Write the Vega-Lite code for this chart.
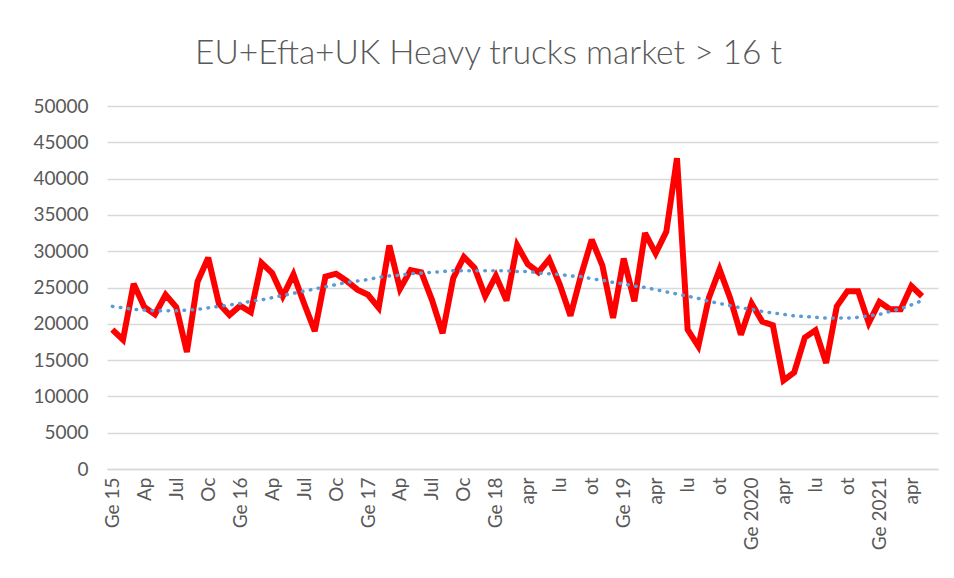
{
  "$schema": "https://vega.github.io/schema/vega-lite/v6.json",
  "width": 831,
  "height": 363,
  "autosize": {"type": "none"},
  "padding": {"left": 107, "top": 106, "right": 16, "bottom": 109},
  "background": "#ffffff",
  "title": {
    "text": "EU+Efta+UK Heavy trucks market > 16 t",
    "font": "Lato",
    "fontSize": 33.5,
    "fontWeight": 300,
    "color": "#595959",
    "anchor": "middle",
    "frame": "group",
    "dx": -34,
    "offset": 26
  },
  "config": {
    "view": {"stroke": null},
    "axis": {
      "labelFont": "Lato",
      "labelColor": "#595959",
      "labelFontSize": 19,
      "ticks": false,
      "title": null,
      "gridColor": "#d9d9d9",
      "gridWidth": 1.3
    }
  },
  "data": {
    "values": [
      {"n":0,"month":"2015-01","units":19200,"trend":22400},
      {"n":1,"month":"2015-02","units":17800,"trend":22200},
      {"n":2,"month":"2015-03","units":25500,"trend":22000},
      {"n":3,"month":"2015-04","units":22300,"trend":21900},
      {"n":4,"month":"2015-05","units":21300,"trend":21800},
      {"n":5,"month":"2015-06","units":24000,"trend":21800},
      {"n":6,"month":"2015-07","units":22300,"trend":21800},
      {"n":7,"month":"2015-08","units":16100,"trend":21900},
      {"n":8,"month":"2015-09","units":25800,"trend":22000},
      {"n":9,"month":"2015-10","units":29100,"trend":22200},
      {"n":10,"month":"2015-11","units":22800,"trend":22400},
      {"n":11,"month":"2015-12","units":21200,"trend":22600},
      {"n":12,"month":"2016-01","units":22500,"trend":22800},
      {"n":13,"month":"2016-02","units":21600,"trend":23100},
      {"n":14,"month":"2016-03","units":28400,"trend":23300},
      {"n":15,"month":"2016-04","units":27000,"trend":23600},
      {"n":16,"month":"2016-05","units":23800,"trend":23900},
      {"n":17,"month":"2016-06","units":26800,"trend":24200},
      {"n":18,"month":"2016-07","units":22800,"trend":24500},
      {"n":19,"month":"2016-08","units":19000,"trend":24800},
      {"n":20,"month":"2016-09","units":26500,"trend":25100},
      {"n":21,"month":"2016-10","units":26900,"trend":25400},
      {"n":22,"month":"2016-11","units":25900,"trend":25700},
      {"n":23,"month":"2016-12","units":24700,"trend":25900},
      {"n":24,"month":"2017-01","units":24000,"trend":26100},
      {"n":25,"month":"2017-02","units":22200,"trend":26400},
      {"n":26,"month":"2017-03","units":30800,"trend":26600},
      {"n":27,"month":"2017-04","units":24800,"trend":26700},
      {"n":28,"month":"2017-05","units":27400,"trend":26900},
      {"n":29,"month":"2017-06","units":27100,"trend":27000},
      {"n":30,"month":"2017-07","units":23300,"trend":27100},
      {"n":31,"month":"2017-08","units":18700,"trend":27200},
      {"n":32,"month":"2017-09","units":26300,"trend":27300},
      {"n":33,"month":"2017-10","units":29200,"trend":27300},
      {"n":34,"month":"2017-11","units":27700,"trend":27300},
      {"n":35,"month":"2017-12","units":23800,"trend":27300},
      {"n":36,"month":"2018-01","units":26600,"trend":27300},
      {"n":37,"month":"2018-02","units":23200,"trend":27300},
      {"n":38,"month":"2018-03","units":30800,"trend":27200},
      {"n":39,"month":"2018-04","units":28200,"trend":27200},
      {"n":40,"month":"2018-05","units":27100,"trend":27000},
      {"n":41,"month":"2018-06","units":28900,"trend":26900},
      {"n":42,"month":"2018-07","units":25400,"trend":26800},
      {"n":43,"month":"2018-08","units":21100,"trend":26600},
      {"n":44,"month":"2018-09","units":26700,"trend":26500},
      {"n":45,"month":"2018-10","units":31600,"trend":26200},
      {"n":46,"month":"2018-11","units":28000,"trend":26000},
      {"n":47,"month":"2018-12","units":20800,"trend":25700},
      {"n":48,"month":"2019-01","units":29000,"trend":25500},
      {"n":49,"month":"2019-02","units":23100,"trend":25200},
      {"n":50,"month":"2019-03","units":32500,"trend":25000},
      {"n":51,"month":"2019-04","units":29700,"trend":24700},
      {"n":52,"month":"2019-05","units":32700,"trend":24400},
      {"n":53,"month":"2019-06","units":42800,"trend":24100},
      {"n":54,"month":"2019-07","units":19200,"trend":23800},
      {"n":55,"month":"2019-08","units":16900,"trend":23500},
      {"n":56,"month":"2019-09","units":23600,"trend":23100},
      {"n":57,"month":"2019-10","units":27500,"trend":22800},
      {"n":58,"month":"2019-11","units":23500,"trend":22500},
      {"n":59,"month":"2019-12","units":18500,"trend":22200},
      {"n":60,"month":"2020-01","units":22800,"trend":22000},
      {"n":61,"month":"2020-02","units":20300,"trend":21700},
      {"n":62,"month":"2020-03","units":19800,"trend":21500},
      {"n":63,"month":"2020-04","units":12200,"trend":21300},
      {"n":64,"month":"2020-05","units":13300,"trend":21100},
      {"n":65,"month":"2020-06","units":18100,"trend":21000},
      {"n":66,"month":"2020-07","units":19100,"trend":20900},
      {"n":67,"month":"2020-08","units":14600,"trend":20800},
      {"n":68,"month":"2020-09","units":22400,"trend":20800},
      {"n":69,"month":"2020-10","units":24500,"trend":20800},
      {"n":70,"month":"2020-11","units":24500,"trend":20900},
      {"n":71,"month":"2020-12","units":20100,"trend":21100},
      {"n":72,"month":"2021-01","units":23000,"trend":21300},
      {"n":73,"month":"2021-02","units":22000,"trend":21700},
      {"n":74,"month":"2021-03","units":22000,"trend":22100},
      {"n":75,"month":"2021-04","units":25200,"trend":22600},
      {"n":76,"month":"2021-05","units":23800,"trend":23200}
    ]
  },
  "encoding": {
    "x": {
      "field": "n",
      "type": "quantitative",
      "scale": {"domain": [-0.5, 77.5], "nice": false, "zero": false},
      "axis": {
        "values": [0,3,6,9,12,15,18,21,24,27,30,33,36,39,42,45,48,51,54,57,60,63,66,69,72,75],
        "labelExpr": "['Ge 15','Ap','Jul','Oc','Ge 16','Ap','Jul','Oc','Ge 17','Ap','Jul','Oc','Ge 18','apr','lu','ot','Ge 19','apr','lu','ot','Ge 2020','apr','lu','ot','Ge 2021','apr'][round(datum.value/3)]",
        "labelAngle": -90,
        "labelAlign": "right",
        "labelBaseline": "middle",
        "labelPadding": 8,
        "grid": false,
        "domain": true,
        "domainColor": "#d9d9d9",
        "domainWidth": 1.3,
        "labelFlush": false,
        "labelOverlap": false
      }
    },
    "y": {
      "type": "quantitative",
      "scale": {"domain": [0, 50000], "nice": false},
      "axis": {
        "values": [0,5000,10000,15000,20000,25000,30000,35000,40000,45000,50000],
        "format": "d",
        "domain": false,
        "grid": true,
        "labelPadding": 19
      }
    }
  },
  "layer": [
    {
      "mark": {"type": "line", "color": "#ff0000", "strokeWidth": 6, "strokeJoin": "miter", "strokeMiterLimit": 3},
      "encoding": {"y": {"field": "units", "type": "quantitative"}}
    },
    {
      "mark": {"type": "line", "color": "#5b9bd5", "strokeWidth": 3.5, "strokeDash": [0.5, 7.5], "strokeCap": "round", "interpolate": "monotone"},
      "encoding": {"y": {"field": "trend", "type": "quantitative"}}
    }
  ]
}
